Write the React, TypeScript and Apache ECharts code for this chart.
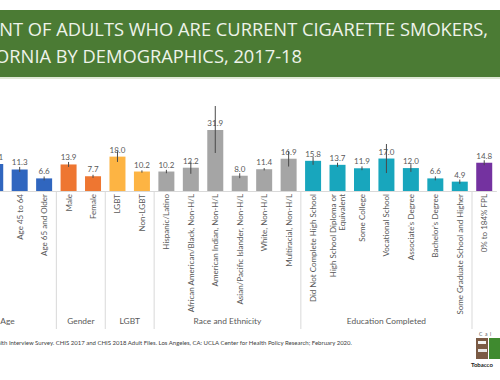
import React, { useEffect, useRef } from "react";
import * as echarts from "echarts";

const categories = [
  "Age 18 to 24",
  "Age 25 to 44",
  "Age 45 to 64",
  "Age 65 and Older",
  "Male",
  "Female",
  "LGBT",
  "Non-LGBT",
  "Hispanic/Latino",
  "African American/Black, Non-H/L",
  "American Indian, Non-H/L",
  "Asian/Pacific Islander, Non-H/L",
  "White, Non-H/L",
  "Multiracial, Non-H/L",
  "Did Not Complete High School",
  "High School Diploma or\nEquivalent",
  "Some College",
  "Vocational School",
  "Associate's Degree",
  "Bachelor's Degree",
  "Some Graduate School and Higher",
  "0% to 184% FPL",
];
const values: (number | null)[] = [null, 14.1, 11.3, 6.6, 13.9, 7.7, 18.0, 10.2, 10.2, 12.2, 31.9, 8.0, 11.4, 16.9, 15.8, 13.7, 11.9, 17.0, 12.0, 6.6, 4.9, 14.8];
const lows: (number | null)[] = [null, 13.0, 10.0, 5.6, 12.6, 6.9, 15.2, 9.6, 9.3, 9.0, 19.9, 6.7, 10.8, 12.8, 13.7, 12.6, 10.9, 9.4, 10.0, 5.6, 3.8, 13.5];
const highs: (number | null)[] = [null, 15.2, 12.6, 7.6, 15.2, 8.5, 20.8, 10.8, 11.1, 15.4, 44.5, 9.3, 12.0, 21.0, 17.9, 14.8, 12.9, 24.6, 14.0, 7.6, 6.0, 16.1];
const groupNames = ["Age", "Gender", "LGBT", "Race and Ethnicity", "Education Completed", ""];
const groupOf = [0, 0, 0, 0, 1, 1, 2, 2, 3, 3, 3, 3, 3, 3, 4, 4, 4, 4, 4, 4, 4, 5];
const groupColors = ["#3066bf", "#ee7631", "#fdb443", "#a5a5a5", "#18a6bd", "#7432a0"];

const TITLE_1 = "PERCENT OF ADULTS WHO ARE CURRENT CIGARETTE SMOKERS,";
const TITLE_2 = "CALIFORNIA BY DEMOGRAPHICS, 2017-18";
const SOURCE =
  "Source: California Health Interview Survey. CHIS 2017 and CHIS 2018 Adult Files. Los Angeles, CA: UCLA Center for Health Policy Research; February 2020.";

const FONT = "Lato, 'Open Sans', sans-serif";
const OX = 42; // the slide is cropped: the chart canvas extends this far past the left edge
const CW = 542;

export default function App() {
  const ref = useRef<HTMLDivElement>(null);
  useEffect(() => {
    if (!ref.current) return;
    const chart = echarts.init(ref.current, null, { renderer: "svg" });
    chart.setOption({
      animation: false,
      backgroundColor: "#ffffff",
      grid: { left: 0.55, right: CW - 0.55 - 537.9, top: 95.5, bottom: 189 },
      xAxis: {
        type: "category",
        data: categories,
        axisLine: { show: true, lineStyle: { color: "#d9d9d9", width: 1 } },
        axisTick: { show: false },
        axisLabel: {
          interval: 0,
          rotate: 90,
          fontSize: 8,
          color: "#595959",
          fontFamily: FONT,
          margin: 3,
          lineHeight: 9,
        },
      },
      yAxis: {
        type: "value",
        min: 0,
        max: 50,
        show: false,
        splitLine: { show: false },
      },
      series: [
        {
          type: "bar",
          barWidth: 16,
          data: values.map((v, i) => ({
            value: v,
            itemStyle: { color: groupColors[groupOf[i]] },
          })),
          label: {
            show: true,
            position: "top",
            distance: 3,
            fontSize: 8,
            color: "#595959",
            fontFamily: FONT,
            formatter: (p: any) => (p.value == null ? "" : Number(p.value).toFixed(1)),
          },
          z: 2,
        },
        {
          type: "custom",
          z: 5,
          data: categories.map((_, i) => [i, lows[i], highs[i]]),
          renderItem: (params: any, api: any) => {
            const lo = api.value(1);
            const hi = api.value(2);
            if (lo == null || hi == null || isNaN(lo) || isNaN(hi)) return null;
            const a = api.coord([api.value(0), lo]);
            const b = api.coord([api.value(0), hi]);
            return {
              type: "line",
              shape: { x1: a[0], y1: a[1], x2: b[0], y2: b[1] },
              style: { stroke: "#4a4a4a", lineWidth: 1 },
            };
          },
        },
      ],
    });

    const px = (i: number) => chart.convertToPixel({ xAxisIndex: 0 }, i) as number;
    const band = px(1) - px(0);
    const graphics: any[] = [];
    let start = 0;
    for (let i = 1; i <= categories.length; i++) {
      if (i === categories.length || groupOf[i] !== groupOf[start]) {
        const left = px(start) - band / 2;
        const right = px(i - 1) + band / 2;
        const g = groupOf[start];
        if (groupNames[g]) {
          graphics.push({
            type: "text",
            x: (left + right) / 2,
            y: 321,
            style: {
              text: groupNames[g],
              fill: "#595959",
              font: `8.4px ${FONT}`,
              textAlign: "center",
              textVerticalAlign: "middle",
            },
          });
        }
        if (i < categories.length) {
          graphics.push({
            type: "line",
            shape: { x1: right, y1: 191, x2: right, y2: 329 },
            style: { stroke: "#d9d9d9", lineWidth: 1 },
          });
        }
        start = i;
      }
    }

    chart.setOption({
      graphic: [
        {
          type: "rect",
          shape: { x: 0, y: 10, width: CW, height: 67 },
          style: { fill: "#4b7b34" },
        },
        {
          type: "rect",
          shape: { x: 0, y: 77, width: CW, height: 2 },
          style: { fill: "#dfe8d6" },
        },
        {
          type: "text",
          x: OX + 488,
          y: 28.5,
          style: {
            text: TITLE_1,
            fill: "#eef3ea",
            font: `18.3px 'Open Sans', sans-serif`,
            textAlign: "right",
            textVerticalAlign: "middle",
          },
        },
        {
          type: "text",
          x: OX + 302,
          y: 55.5,
          style: {
            text: TITLE_2,
            fill: "#eef3ea",
            font: `18.3px 'Open Sans', sans-serif`,
            textAlign: "right",
            textVerticalAlign: "middle",
          },
        },
        {
          type: "text",
          x: OX + 352,
          y: 342,
          style: {
            text: SOURCE,
            fill: "#404040",
            font: `6px ${FONT}`,
            textAlign: "right",
            textVerticalAlign: "middle",
          },
        },
        {
          type: "text",
          x: OX + 479,
          y: 334,
          style: { text: "C  a  l", fill: "#555555", font: `5px ${FONT}`, textVerticalAlign: "middle" },
        },
        {
          type: "rect",
          shape: { x: OX + 476, y: 338, width: 12, height: 21 },
          style: { fill: "#7a5a44" },
        },
        {
          type: "rect",
          shape: { x: OX + 478, y: 341, width: 8, height: 3 },
          style: { fill: "#f2f2f2" },
        },
        {
          type: "rect",
          shape: { x: OX + 478, y: 349, width: 9, height: 3 },
          style: { fill: "#e8e8e8" },
        },
        {
          type: "rect",
          shape: { x: OX + 489, y: 338, width: 11, height: 21 },
          style: { fill: "#3f8a2f" },
        },
        {
          type: "text",
          x: OX + 471,
          y: 364,
          style: { text: "Tobacco", fill: "#222222", font: `bold 6px ${FONT}`, textVerticalAlign: "middle" },
        },
        ...graphics,
      ],
    });
    return () => chart.dispose();
  }, []);
  return (
    <div style={{ position: "fixed", left: 0, top: 0, width: 500, height: 380, overflow: "hidden", background: "#fff" }}>
      <div ref={ref} style={{ position: "absolute", left: -OX, top: 0, width: CW, height: 380 }} />
    </div>
  );
}
